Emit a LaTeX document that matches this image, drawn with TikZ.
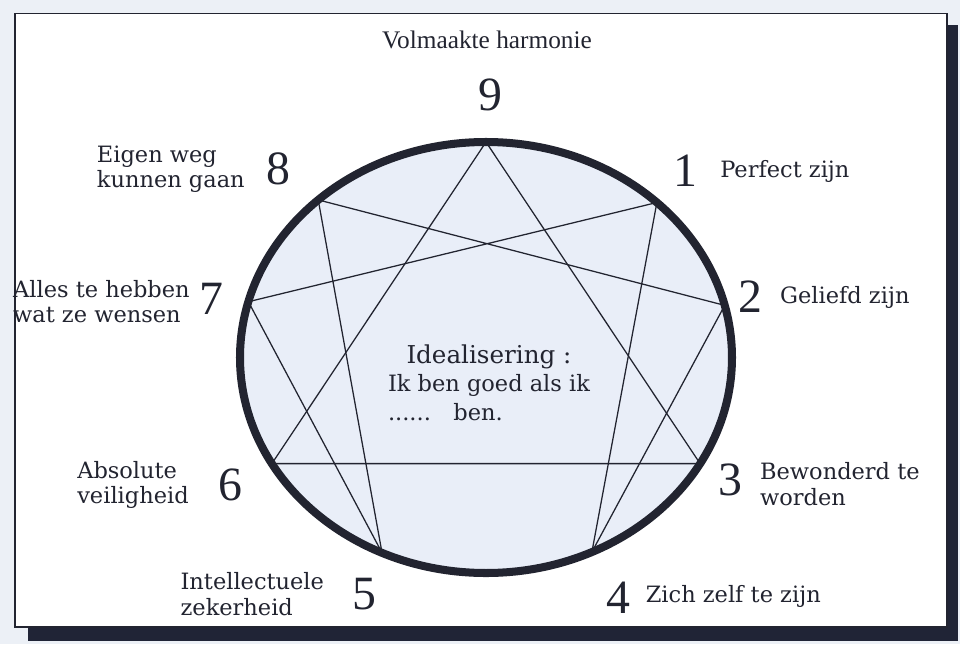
\documentclass[tikz,border=0pt]{standalone}
\usepackage{fontspec}
\setmainfont{Liberation Serif}
\newfontfamily\lblfont{DejaVu Serif}
\usepackage{tikz}
\usetikzlibrary{positioning}

\definecolor{paperblue}{RGB}{236,240,246}
\definecolor{discblue}{RGB}{233,238,248}
\definecolor{inkdark}{RGB}{34,36,48}
\definecolor{shadowdark}{RGB}{32,36,54}

\begin{document}
\begin{tikzpicture}[
  num/.style={inner sep=1pt, font=\fontsize{34}{34}\selectfont, text=inkdark},
  lbl/.style={inner sep=1pt, align=left, font=\lblfont\fontsize{16}{18}\selectfont, text=inkdark},
  ttl/.style={inner sep=1pt, font=\fontsize{18}{20}\selectfont, text=inkdark},
  midhead/.style={inner sep=1pt, font=\lblfont\fontsize{17.5}{20}\selectfont, text=inkdark},
  midtxt/.style={inner sep=1pt, align=left, font=\lblfont\fontsize{16}{21}\selectfont, text=inkdark},
  ring/.style={line width=5.7pt, draw=inkdark},
  chord/.style={line width=0.9pt, draw=inkdark, line cap=round}
]

\useasboundingbox (-12.15,-7.1625) rectangle (11.85,8.9375);
\fill[paperblue] (-12.15,-7.1625) rectangle (11.85,8.9375);
\fill[shadowdark] (-11.45,-7.0875) rectangle (11.8,8.3);
\draw[fill=white, line width=1.2pt, draw=inkdark] (-11.775,-6.7375) rectangle (11.525,8.6);

\fill[discblue] (0,0) ellipse [x radius=6.15cm, y radius=5.3875cm];

\foreach \pname/\ang in {p9/90, p1/46, p2/14, p3/-29.5, p4/-64.5, p5/-115, p6/-150.5, p7/165, p8/133}
  \coordinate (\pname) at ({6.15*cos(\ang)},{5.3875*sin(\ang)});

\draw[chord] (p9) -- (p3) -- (p6) -- cycle;
\draw[chord] (p1) -- (p4) -- (p2) -- (p8) -- (p5) -- (p7) -- cycle;
\draw[ring] (0,0) ellipse [x radius=6.15cm, y radius=5.3875cm];

\node[ttl] (harm) at (0.025,7.94) {Volmaakte harmonie};

\node[num] (n9) at (0.1,6.5625)    {9};
\node[num] (n1) at (4.975,4.66)    {1};
\node[num] (n2) at (6.6,1.5125)    {2};
\node[num] (n3) at (6.1,-3.0625)   {3};
\node[num] (n4) at (3.3125,-6.0125) {4};
\node[num] (n5) at (-3.0375,-5.9125) {5};
\node[num] (n6) at (-6.4,-3.1875)  {6};
\node[num] (n7) at (-6.875,1.4625) {7};
\node[num] (n8) at (-5.2,4.71)     {8};

\node[lbl, right=0.5cm of n1]               (l1) {Perfect zijn};
\node[lbl, right=0.37cm of n2]              (l2) {Geliefd zijn};
\node[lbl, right=0.37cm of n3, yshift=-0.1cm] (l3) {Bewonderd te\\worden};
\node[lbl, right=0.3cm of n4, yshift=0.05cm] (l4) {Zich zelf te zijn};
\node[lbl, left=0.63cm of n5]               (l5) {Intellectuele\\zekerheid};
\node[lbl, left=0.65cm of n6]               (l6) {Absolute\\veiligheid};
\node[lbl, left=0.15cm of n7, yshift=-0.06cm] (l7) {Alles te hebben\\wat ze wensen};
\node[lbl, left=0.45cm of n8]               (l8) {Eigen weg\\kunnen gaan};

\node[midhead] (ideal) at (0.075,0.025) {Idealisering :};
\node[midtxt, below=0.05cm of ideal] (idealtxt) {Ik ben goed als ik\\......\quad{}ben.};

\end{tikzpicture}
\end{document}
